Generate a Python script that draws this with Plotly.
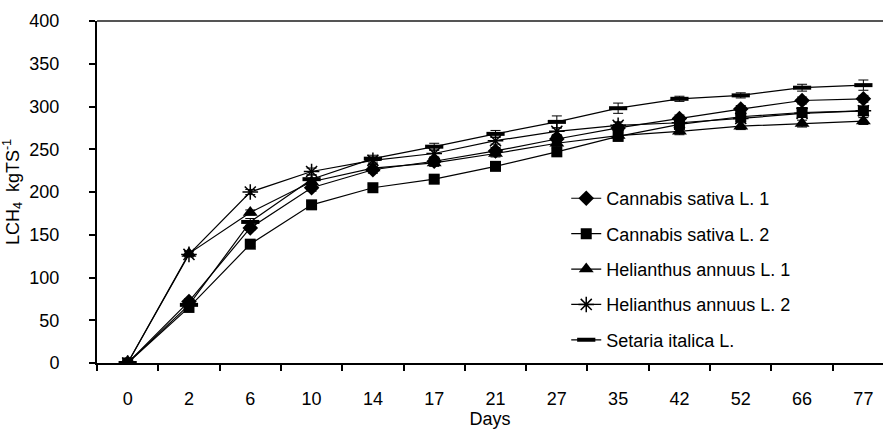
import plotly.graph_objects as go

days = ["0", "2", "6", "10", "14", "17", "21", "27", "35", "42", "52", "66", "77"]
cannabis1 = [0, 72, 158, 205, 226, 236, 248, 262, 275, 286, 297, 307, 309]
cannabis2 = [0, 65, 139, 185, 205, 215, 230, 247, 265, 279, 288, 293, 295]
helianthus1 = [0, 128, 176, 212, 228, 234, 245, 257, 266, 271, 277, 280, 283]
helianthus2 = [0, 127, 200, 224, 237, 245, 260, 271, 278, 281, 286, 292, 295]
setaria = [0, 68, 165, 215, 239, 253, 268, 282, 298, 309, 313, 322, 325]

err_c1 = [1, 3, 3, 4, 4, 4, 4, 4, 4, 4, 4, 4, 4]
err_c2 = [1, 3, 3, 4, 4, 4, 4, 4, 4, 4, 4, 4, 4]
err_h1 = [1, 3, 3, 4, 4, 4, 4, 4, 4, 4, 4, 4, 4]
err_h2 = [1, 3, 3, 4, 4, 4, 4, 4, 4, 4, 4, 4, 4]
err_s = [1, 3, 4, 5, 4, 4, 4, 7, 6, 3, 3, 4, 6]

names = ["Cannabis sativa L. 1", "Cannabis sativa L. 2", "Helianthus annuus L. 1",
         "Helianthus annuus L. 2", "Setaria italica L."]
series = [cannabis1, cannabis2, helianthus1, helianthus2, setaria]
errors = [err_c1, err_c2, err_h1, err_h2, err_s]
symbols = ["diamond", "square", "triangle-up", "asterisk-open", "line-ew-open"]
sizes = [12, 11, 13, 13, 13]

fig = go.Figure()
for i, (nm, ys, er, sym, sz) in enumerate(zip(names, series, errors, symbols, sizes)):
    open_sym = sym.endswith("open")
    fig.add_trace(go.Scatter(
        x=days, y=ys, name=nm, mode="lines+markers",
        legendgroup=f"g{i}",
        line=dict(color="black", width=1.2),
        marker=dict(symbol=sym, size=sz, color="black",
                    line=dict(color="black", width=(4 if sym == "line-ew-open" else 1.5) if open_sym else 0)),
        error_y=dict(type="data", array=er, visible=True, color="black", thickness=1, width=5),
    ))

fig.add_shape(type="line", xref="paper", yref="paper", x0=0, x1=1, y0=1, y1=1,
              line=dict(color="#555555", width=2))

fig.update_layout(
    width=883, height=430,
    margin=dict(l=97, r=0, t=21, b=67),
    paper_bgcolor="white", plot_bgcolor="white",
    font=dict(family="Liberation Sans, Arial, sans-serif", size=18, color="black"),
    showlegend=True,
    legend=dict(x=0.597, y=0.535, xanchor="left", yanchor="top",
                bgcolor="rgba(0,0,0,0)", font=dict(size=18),
                traceorder="grouped", tracegroupgap=9),
    xaxis=dict(type="category", range=[-0.5, 12.32], tickson="boundaries",
               ticks="outside", ticklen=6, tickcolor="black", tickwidth=1.5,
               showline=True, linecolor="black", linewidth=2, showgrid=False,
               zeroline=False, tickfont=dict(size=18), ticklabelstandoff=18,
               title=dict(text="Days", font=dict(size=18), standoff=0)),
    yaxis=dict(range=[0, 400], dtick=50, ticks="outside", ticklen=6,
               tickcolor="black", tickwidth=1.5, showline=True, linecolor="black",
               linewidth=2, showgrid=False, zeroline=False, tickfont=dict(size=18),
               ticklabelstandoff=26,
               title=dict(text="LCH<sub>4</sub>  kgTS<sup>-1</sup>", font=dict(size=18), standoff=6)),
)

fig.write_html("out.html")
